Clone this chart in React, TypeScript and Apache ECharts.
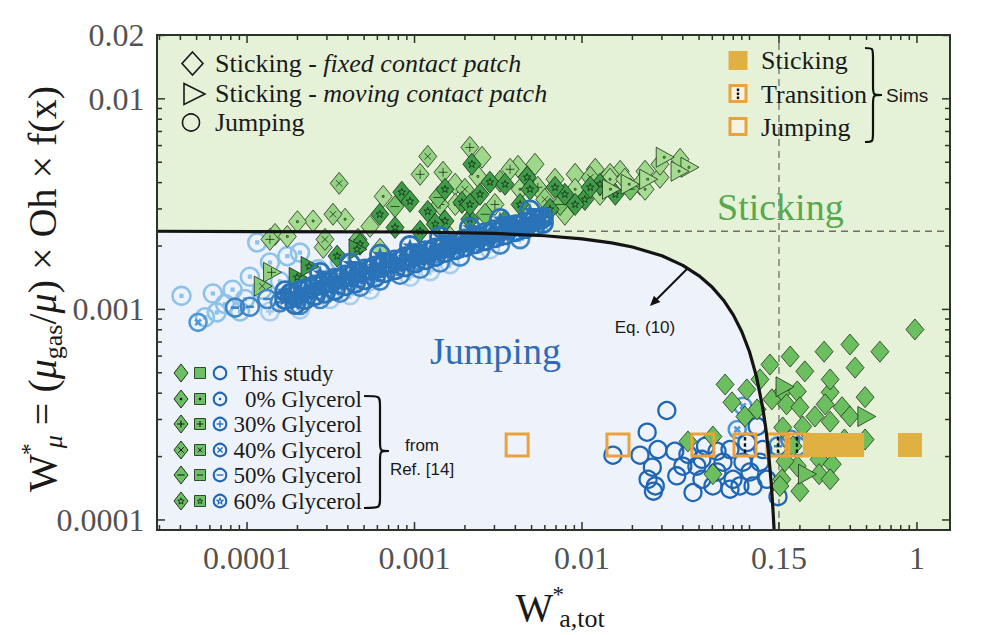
import React, { useEffect, useRef } from 'react';
import * as echarts from 'echarts';

const SERIF = '"Liberation Serif", "Times New Roman", serif';
const SANS = '"Liberation Sans", Arial, sans-serif';

// ---------- axes ----------
const X_MIN = 2.9e-5;
const X_MAX = 1.575;
const Y_MIN = 8.96e-5;
const Y_MAX = 0.0201;

const X_TICK_VALUES = [1e-4, 1e-3, 1e-2, 0.15, 1];
const X_TICK_LABELS = ['0.0001', '0.001', '0.01', '0.15', '1'];
const Y_TICK_VALUES = [1e-4, 1e-3, 1e-2, 0.02];
const Y_TICK_LABELS = ['0.0001', '0.001', '0.01', '0.02'];
const X_MINOR_TICKS = [3e-5, 4e-5, 5e-5, 6e-5, 7e-5, 8e-5, 9e-5, 2e-4, 3e-4, 4e-4, 5e-4, 6e-4, 7e-4, 8e-4, 9e-4,
  2e-3, 3e-3, 4e-3, 5e-3, 6e-3, 7e-3, 8e-3, 9e-3, 0.02, 0.03, 0.04, 0.05, 0.06, 0.07, 0.08, 0.09, 0.1,
  0.2, 0.3, 0.4, 0.5, 0.6, 0.7, 0.8, 0.9];
const Y_MINOR_TICKS = [2e-4, 3e-4, 4e-4, 5e-4, 6e-4, 7e-4, 8e-4, 9e-4, 2e-3, 3e-3, 4e-3, 5e-3, 6e-3, 7e-3, 8e-3, 9e-3];

// ---------- regime boundary, Eq. (10) ----------
const STICK_LEVEL = 0.00235;
const CRIT_WA = 0.15;
const CURVE_X = [2.9e-5, 0.001, 0.003, 0.006, 0.01, 0.015, 0.02, 0.03, 0.04, 0.05, 0.06, 0.07, 0.08, 0.09, 0.1, 0.11, 0.12, 0.125, 0.13, 0.135, 0.138, 0.1403];
const CURVE_Y = [0.00235, 0.002331, 0.002294, 0.002238, 0.002163, 0.002071, 0.001979, 0.001798, 0.001619, 0.001444, 0.001273, 0.001106, 0.000942, 0.000783, 0.000629, 0.000481, 0.000341, 0.000274, 0.000209, 0.000148, 0.000113, 0.0000896];

// ---------- Ref. [14] sticking, fixed contact patch (diamonds) ----------
const STICK_PLAIN_UP = [[1.47e-4, 2.27e-3], [2.85e-4, 1.97e-3], [5.42e-4, 2.48e-3], [1.75e-3, 3.93e-3], [2.53e-3, 5.28e-3], [4.15e-3, 4.78e-3], [6.22e-4, 1.93e-3], [5.24e-3, 4.89e-3], [6.9e-3, 4.15e-3], [9.1e-3, 4.38e-3], [0.012, 4.63e-3], [0.0169, 4.53e-3], [0.0238, 4.53e-3], [0.0292, 4.24e-3], [1.63e-3, 2.2e-3], [5.61e-3, 2.68e-3], [7.9e-3, 2.83e-3], [0.0147, 4.38e-3], [0.0222, 3.93e-3], [0.0292, 4.89e-3], [0.0385, 5.16e-3]];
const STICK_DOT = [[6.5e-4, 3.44e-3], [3.85e-4, 2.68e-3], [2.48e-4, 2.63e-3], [2.0e-4, 2.61e-3], [1.74e-4, 2.22e-3], [2.39e-3, 4.28e-3], [9.1e-3, 3.72e-3], [0.0147, 4.15e-3], [4.27e-3, 3.72e-3], [1.75e-3, 3.15e-3], [0.0128, 3.52e-3], [0.018, 4.15e-3], [0.0238, 3.72e-3]];
const STICK_PLUS = [[1.08e-3, 4.38e-3], [1.48e-3, 4.48e-3], [2.14e-3, 5.88e-3], [3.72e-3, 4.63e-3], [1.42e-3, 3.15e-3], [3.02e-3, 3.15e-3], [5.45e-3, 3.8e-3], [1.37e-4, 2.15e-3]];
const STICK_X = [[3.55e-4, 3.97e-3], [3.26e-4, 2.83e-3], [2.92e-4, 2.15e-3], [1.2e-3, 5.33e-3], [2.0e-3, 3.72e-3], [6.0e-3, 3.33e-3], [0.0112, 4.24e-3]];
const STICK_MINUS = [[7.65e-4, 3.08e-3], [1.38e-3, 3.4e-3], [2.64e-3, 2.83e-3], [3.24e-3, 4.06e-3], [7.4e-3, 3.15e-3], [0.0194, 3.72e-3], [4.6e-4, 2.15e-3]];
const STICK_STAR = [[2.2e-3, 4.89e-3], [4.7e-3, 4.24e-3], [8.4e-4, 3.6e-3], [9.4e-4, 3.26e-3], [1.2e-3, 2.92e-3], [1.92e-3, 3.22e-3], [2.82e-3, 4.02e-3], [1.52e-3, 2.63e-3], [2.14e-3, 2.68e-3], [3.47e-3, 2.63e-3], [4.27e-3, 3.15e-3], [6.44e-3, 2.99e-3], [7.9e-3, 3.52e-3], [0.0104, 3.33e-3], [0.0128, 3.93e-3], [0.0158, 3.52e-3], [6.2e-4, 2.83e-3], [7.65e-4, 2.45e-3], [1.08e-3, 2.35e-3], [3.45e-4, 1.79e-3], [4.73e-4, 2.04e-3], [1.52e-3, 3.72e-3], [2.46e-3, 3.52e-3], [3.47e-3, 3.93e-3], [4.89e-3, 3.72e-3], [6.9e-3, 3.8e-3], [9.1e-3, 3.15e-3], [0.0112, 3.8e-3], [2.14e-3, 3.15e-3], [1.33e-3, 2.54e-3]];

// ---------- Ref. [14] sticking, moving contact patch (triangles) ----------
const MOVE_PLUS = [[1.42e-4, 1.5e-3]];
const MOVE_X = [[1.25e-4, 1.29e-3]];
const MOVE_STAR = [[2.02e-4, 1.42e-3], [4.6e-4, 1.93e-3], [2.38e-4, 1.6e-3]];
const MOVE_DOT = [[0.0314, 5.28e-3], [0.0441, 4.73e-3], [0.025, 4.15e-3], [0.0194, 3.93e-3], [0.015, 3.72e-3], [0.0385, 4.53e-3]];

// ---------- This study, sticking ----------
const STICK_STUDY = [[0.0715, 4.4e-4], [0.0965, 4.17e-4], [0.0786, 3.62e-4], [0.0939, 3.1e-4], [0.111, 3.35e-4], [0.136, 3.74e-4], [0.158, 4.08e-4], [0.193, 4.08e-4], [0.303, 4.04e-4], [0.1665, 3.54e-4], [0.2, 3.43e-4], [0.246, 3.1e-4], [0.283, 3.54e-4], [0.357, 3.43e-4], [0.49, 3.83e-4], [0.398, 3.1e-4], [0.303, 2.93e-4], [0.158, 2.75e-4], [0.208, 2.78e-4], [0.0429, 2.36e-4], [0.0605, 2.49e-4], [0.182, 2.24e-4], [0.2605, 1.94e-4], [0.312, 1.84e-4], [0.2605, 1.65e-4], [0.303, 1.56e-4], [0.193, 1.8e-4], [0.156, 1.56e-4], [0.2, 1.37e-4], [0.152, 1.45e-4], [0.0605, 1.65e-4], [0.303, 4.65e-4], [0.972, 8.03e-4], [0.601, 6.3e-4], [0.398, 6.81e-4], [0.279, 6.3e-4], [0.175, 5.97e-4], [0.1325, 5.47e-4], [0.214, 5.08e-4], [0.427, 5.29e-4], [0.1155, 4.65e-4], [0.49, 2.41e-4], [0.369, 2.41e-4], [0.163, 1.9e-4]];
const MOVE_STUDY = [[0.502, 3.1e-4], [0.222, 1.65e-4], [0.163, 4.29e-4]];

// ---------- This study, jumping ----------
const JUMP_STUDY = [[0.0321, 3.31e-4], [0.0245, 2.61e-4], [0.0153, 2.03e-4], [0.0222, 2.03e-4], [0.0284, 2.16e-4], [0.0263, 1.78e-4], [0.0248, 1.56e-4], [0.0274, 1.45e-4], [0.0267, 1.37e-4], [0.0368, 1.62e-4], [0.0358, 2.12e-4], [0.0429, 2.05e-4], [0.0485, 1.8e-4], [0.0546, 2.24e-4], [0.046, 1.35e-4], [0.0605, 1.45e-4], [0.052, 1.56e-4], [0.0695, 1.88e-4], [0.0765, 2.16e-4], [0.0798, 1.56e-4], [0.0877, 1.45e-4], [0.1007, 1.69e-4], [0.105, 1.45e-4], [0.0914, 1.88e-4], [0.0965, 2.33e-4], [0.12, 2.16e-4], [0.1155, 1.88e-4], [0.148, 1.29e-4], [0.064, 2.12e-4], [0.052, 1.94e-4], [0.04, 1.8e-4], [0.064, 1.69e-4], [0.0765, 1.4e-4], [0.127, 1.56e-4], [0.111, 2.78e-4]];

// ---------- Ref. [14] jumping (circles) ----------
const JUMP_DOT = [[1.15e-4, 2.08e-3], [4.06e-5, 1.16e-3], [6.25e-5, 1.19e-3], [8.2e-5, 1.24e-3], [1.04e-4, 1.43e-3], [1.37e-4, 1.67e-3], [1.74e-4, 1.79e-3], [2.07e-4, 1.86e-3], [6.6e-5, 9.68e-4], [7.39e-5, 1.06e-3], [9.73e-5, 1.12e-3], [1.23e-4, 1.24e-3], [1.57e-4, 1.36e-3], [2.66e-4, 1.55e-3], [3.59e-4, 1.69e-3], [5.61e-5, 9.17e-4], [9.08e-5, 9.78e-4]];
const JUMP_PLUS = [[2.07e-4, 1.0e-3], [3.13e-4, 1.12e-3], [5.42e-4, 1.24e-3], [9.4e-4, 1.43e-3], [1.63e-3, 1.64e-3], [2.82e-3, 1.93e-3], [4.27e-3, 2.15e-3], [1.37e-4, 9.78e-4], [4.12e-4, 1.17e-3], [1.24e-3, 1.52e-3]];
const JUMP_X = [[5.1e-5, 8.68e-4], [0.0914, 3.47e-4], [0.0845, 2.69e-4]];
const JUMP_MINUS = [[1.04e-4, 1.03e-3], [8.48e-5, 1.02e-3], [1.32e-4, 1.12e-3], [1.86e-4, 1.2e-3], [1.57e-4, 1.08e-3], [0.148, 2.24e-4], [0.193, 2.24e-4], [0.175, 2.41e-4],
  [2.07e-4, 1.05e-3], [2.73e-4, 1.12e-3], [3.59e-4, 1.2e-3], [4.73e-4, 1.28e-3], [6.22e-4, 1.37e-3], [8.19e-4, 1.46e-3], [1.08e-3, 1.56e-3], [1.42e-3, 1.67e-3], [1.87e-3, 1.78e-3], [2.46e-3, 1.91e-3], [3.24e-3, 2.03e-3], [4.27e-3, 2.16e-3]];
const JUMP_STAR = [[1.69e-4, 1.12e-3], [1.69e-4, 1.22e-3], [1.94e-4, 1.17e-3], [1.94e-4, 1.06e-3], [2.22e-4, 1.24e-3], [2.22e-4, 1.12e-3], [2.55e-4, 1.3e-3], [2.55e-4, 1.17e-3], [2.92e-4, 1.34e-3], [2.92e-4, 1.2e-3], [3.35e-4, 1.4e-3], [3.35e-4, 1.24e-3], [3.85e-4, 1.45e-3], [3.85e-4, 1.3e-3], [4.42e-4, 1.5e-3], [4.42e-4, 1.34e-3], [5.06e-4, 1.55e-3], [5.06e-4, 1.39e-3], [5.81e-4, 1.6e-3], [5.81e-4, 1.43e-3], [6.67e-4, 1.66e-3], [6.67e-4, 1.5e-3], [7.65e-4, 1.71e-3], [7.65e-4, 1.55e-3], [8.78e-4, 1.77e-3], [8.78e-4, 1.6e-3], [1.01e-3, 1.83e-3], [1.01e-3, 1.67e-3], [1.16e-3, 1.89e-3], [1.16e-3, 1.73e-3], [1.33e-3, 1.95e-3], [1.33e-3, 1.79e-3], [1.52e-3, 2.01e-3], [1.52e-3, 1.87e-3], [1.75e-3, 2.08e-3], [1.75e-3, 1.93e-3], [2.0e-3, 2.15e-3], [2.0e-3, 1.99e-3], [2.3e-3, 2.22e-3], [2.3e-3, 2.06e-3], [2.64e-3, 2.3e-3], [2.64e-3, 2.13e-3], [3.02e-3, 2.38e-3], [3.02e-3, 2.2e-3], [3.47e-3, 2.46e-3], [3.47e-3, 2.27e-3], [3.98e-3, 2.51e-3], [3.98e-3, 2.35e-3], [4.57e-3, 2.59e-3], [4.57e-3, 2.43e-3], [5.24e-3, 2.68e-3], [5.24e-3, 2.51e-3], [5.85e-3, 2.73e-3], [5.85e-3, 2.57e-3],
  [1.81e-4, 1.185e-3], [2.07e-4, 1.225e-3], [2.38e-4, 1.265e-3], [2.73e-4, 1.31e-3], [3.13e-4, 1.35e-3], [3.59e-4, 1.4e-3], [4.12e-4, 1.44e-3], [4.73e-4, 1.49e-3], [5.42e-4, 1.54e-3], [6.22e-4, 1.59e-3], [7.14e-4, 1.65e-3], [8.19e-4, 1.7e-3], [9.4e-4, 1.76e-3], [1.08e-3, 1.82e-3], [1.24e-3, 1.88e-3], [1.42e-3, 1.94e-3], [1.63e-3, 2.005e-3], [1.87e-3, 2.07e-3], [2.14e-3, 2.14e-3], [2.46e-3, 2.21e-3], [2.82e-3, 2.28e-3], [3.24e-3, 2.36e-3], [3.72e-3, 2.44e-3], [4.27e-3, 2.52e-3], [4.89e-3, 2.6e-3], [5.61e-3, 2.69e-3],
  [2.73e-4, 1.49e-3], [4.12e-4, 1.65e-3], [6.22e-4, 1.82e-3], [9.4e-4, 2.0e-3], [1.42e-3, 2.21e-3], [2.14e-3, 2.44e-3], [3.24e-3, 2.69e-3], [4.89e-3, 2.95e-3]];

// ---------- Simulations ----------
const SIM_LEVEL = 0.000227;
const SIM_JUMP_X = [0.0041, 0.0164, 0.0527];
const SIM_TRANS_X = [0.094, 0.148, 0.192];
const SIM_STICK_X = [0.246, 0.303, 0.41, 0.908];

// ---------- styles ----------
const GREEN_BG = '#e5f2d8';
const BLUE_BG = '#eef2fb';
const FRAME = '#2b3428';
const ORANGE = '#e9a23c';
const MUSTARD = '#e1b042';
const CLEAR = 'rgba(0,0,0,0)';

const DIAMOND = 'M0,-11 L9,0 L0,11 L-9,0 Z';
const TRI = 'M-8,-10 L10,0 L-8,10 Z';
const CIRC = 'M10,0 A10,10 0 1,1 -10,0 A10,10 0 1,1 10,0 Z';
const MARKS: Record<string, string> = {
  none: '',
  dot: ' M-0.9,-0.9 L0.9,-0.9 L0.9,0.9 L-0.9,0.9 Z',
  plus: ' M-4.5,0 L4.5,0 M0,-4.5 L0,4.5',
  x: ' M-3.3,-3.3 L3.3,3.3 M3.3,-3.3 L-3.3,3.3',
  minus: ' M-4.5,0 L4.5,0',
  star: ' M0,-4 L0.95,-1.3 L3.8,-1.25 L1.5,0.5 L2.35,3.25 L0,1.6 L-2.35,3.25 L-1.5,0.5 L-3.8,-1.25 L-0.95,-1.3 Z',
};
const sym = (shape: string, mark: string) => 'path://' + shape + MARKS[mark];

function scat(data: number[][], symbol: string, size: any, fill: string, stroke: string, bw: number): any {
  return {
    type: 'scatter', data, symbol, symbolSize: size, silent: true,
    emphasis: { disabled: true },
    itemStyle: { color: fill, borderColor: stroke, borderWidth: bw, opacity: 1 },
  };
}

function starPts(cx: number, cy: number, ro: number, ri: number) {
  const pts: number[][] = [];
  for (let k = 0; k < 10; k++) {
    const a = -Math.PI / 2 + (k * Math.PI) / 5;
    const r = k % 2 === 0 ? ro : ri;
    pts.push([cx + r * Math.cos(a), cy + r * Math.sin(a)]);
  }
  return pts;
}

function gl(x1: number, y1: number, x2: number, y2: number, stroke: string, lw: number): any {
  return { type: 'line', z: 60, silent: true, shape: { x1, y1, x2, y2 }, style: { stroke, lineWidth: lw } };
}

function markEls(kind: string, cx: number, cy: number, s: number, color: string, lw: number): any[] {
  if (kind === 'dot') return [{ type: 'circle', z: 61, silent: true, shape: { cx, cy, r: 1.3 }, style: { fill: color } }];
  if (kind === 'plus') return [gl(cx - s, cy, cx + s, cy, color, lw), gl(cx, cy - s, cx, cy + s, color, lw)];
  if (kind === 'x') {
    const d = s * 0.75;
    return [gl(cx - d, cy - d, cx + d, cy + d, color, lw), gl(cx + d, cy - d, cx - d, cy + d, color, lw)];
  }
  if (kind === 'minus') return [gl(cx - s, cy, cx + s, cy, color, lw)];
  if (kind === 'star') return [{ type: 'polygon', z: 61, silent: true, shape: { points: starPts(cx, cy + 0.3, s * 0.95, s * 0.4) }, style: { fill: 'none', stroke: color, lineWidth: lw * 0.8 } }];
  return [];
}

function brace(x0: number, xv: number, xt: number, top: number, bot: number, mid: number): any[] {
  const r = 10;
  const st = () => ({ stroke: '#111', lineWidth: 2.2, fill: 'none' });
  const bz = (x1: number, y1: number, c1x: number, c1y: number, c2x: number, c2y: number, x2: number, y2: number) => ({
    type: 'bezierCurve', z: 60, silent: true,
    shape: { x1, y1, cpx1: c1x, cpy1: c1y, cpx2: c2x, cpy2: c2y, x2, y2 }, style: st(),
  });
  return [
    bz(x0, top, xv, top, xv, top, xv, top + r),
    { type: 'line', z: 60, silent: true, shape: { x1: xv, y1: top + r, x2: xv, y2: mid - r }, style: st() },
    bz(xv, mid - r, xv, mid, xv, mid, xt, mid),
    bz(xt, mid, xv, mid, xv, mid, xv, mid + r),
    { type: 'line', z: 60, silent: true, shape: { x1: xv, y1: mid + r, x2: xv, y2: bot - r }, style: st() },
    bz(xv, bot - r, xv, bot, xv, bot, x0, bot),
  ];
}

function txt(x: number, y: number, text: string, size: number, o: any = {}): any {
  const align = o.align || 'left';
  return {
    type: 'text', x, y, z: 62, silent: true, rotation: o.rotation || 0,
    style: {
      text, fill: o.fill || '#1a1a1a', fontSize: size, fontFamily: o.family || SERIF,
      fontStyle: o.italic ? 'italic' : 'normal',
      align, textAlign: align, verticalAlign: 'middle', textVerticalAlign: 'middle',
      rich: o.rich,
    },
  };
}

function buildGraphics(): any[] {
  const g: any[] = [];
  g.push({ type: 'rect', z: 40, silent: true, shape: { x: 157, y: 35, width: 793, height: 495 }, style: { fill: 'none', stroke: FRAME, lineWidth: 2 } });

  // top-left legend
  const richTL = {
    r: { fontSize: 26, fontFamily: SERIF, fill: '#1a1a1a' },
    i: { fontSize: 26, fontFamily: SERIF, fontStyle: 'italic', fill: '#1a1a1a' },
  };
  g.push({ type: 'polygon', z: 60, silent: true, shape: { points: [[192.5, 52], [203, 63.5], [192.5, 75], [182, 63.5]] }, style: { fill: 'none', stroke: '#1a1a1a', lineWidth: 1.6 } });
  g.push({ type: 'polygon', z: 60, silent: true, shape: { points: [[184, 83.5], [205, 94], [184, 104.5]] }, style: { fill: 'none', stroke: '#1a1a1a', lineWidth: 1.6 } });
  g.push({ type: 'circle', z: 60, silent: true, shape: { cx: 191, cy: 122.5, r: 8.5 }, style: { fill: 'none', stroke: '#1a1a1a', lineWidth: 1.6 } });
  g.push(txt(215, 63, '{r|Sticking - }{i|fixed contact patch}', 26, { rich: richTL }));
  g.push(txt(215, 93, '{r|Sticking - }{i|moving contact patch}', 26, { rich: richTL }));
  g.push(txt(215, 122, 'Jumping', 26));

  // top-right legend (simulations)
  g.push({ type: 'rect', z: 60, silent: true, shape: { x: 728.5, y: 51, width: 19, height: 19 }, style: { fill: MUSTARD } });
  g.push({ type: 'rect', z: 60, silent: true, shape: { x: 730, y: 85.5, width: 16, height: 16 }, style: { fill: '#f5f3e3', stroke: ORANGE, lineWidth: 3 } });
  [88.5, 92.5, 96.5].forEach((yy) => g.push({ type: 'rect', z: 61, silent: true, shape: { x: 736.8, y: yy, width: 2.4, height: 2.6 }, style: { fill: '#111' } }));
  g.push({ type: 'rect', z: 60, silent: true, shape: { x: 730, y: 118.5, width: 16, height: 16 }, style: { fill: '#f5f3e3', stroke: ORANGE, lineWidth: 3 } });
  g.push(txt(761, 60, 'Sticking', 26));
  g.push(txt(761, 94, 'Transition', 26));
  g.push(txt(761, 127, 'Jumping', 26));
  g.push(...brace(865, 873, 882, 48, 142, 95));
  g.push(txt(886, 95, 'Sims', 19, { family: SANS }));

  // bottom-left legend
  const rows = [373, 399, 424, 450, 475, 501];
  const kinds = ['none', 'dot', 'plus', 'x', 'minus', 'star'];
  const labels = ['This study', '0% Glycerol', '30% Glycerol', '40% Glycerol', '50% Glycerol', '60% Glycerol'];
  rows.forEach((y, i) => {
    g.push({ type: 'polygon', z: 60, silent: true, shape: { points: [[181, y - 9], [188, y], [181, y + 9], [174, y]] }, style: { fill: '#6cc064', stroke: '#1f331c', lineWidth: 1 } });
    g.push({ type: 'rect', z: 60, silent: true, shape: { x: 194.5, y: y - 5.5, width: 11, height: 11 }, style: { fill: '#6fbf66', stroke: '#2a4a28', lineWidth: 1 } });
    g.push({ type: 'circle', z: 60, silent: true, shape: { cx: 220, cy: y, r: 6.3 }, style: { fill: 'none', stroke: '#1f66b5', lineWidth: 2 } });
    g.push(...markEls(kinds[i], 181, y, 3.6, '#111', 1));
    g.push(...markEls(kinds[i], 200, y, 3, '#111', 0.9));
    g.push(...markEls(kinds[i], 220, y, 3.4, '#1f66b5', 1.3));
    if (i === 0) g.push(txt(237, y, labels[i], 23));
    else g.push(txt(362, y, labels[i], 23, { align: 'right' }));
  });
  g.push(...brace(364, 380, 389, 396, 508, 451));
  g.push(txt(422, 445, 'from', 17, { family: SANS, align: 'center' }));
  g.push(txt(422, 469, 'Ref. [14]', 17, { family: SANS, align: 'center' }));

  // regime labels
  g.push(txt(717, 207, 'Sticking', 38, { fill: '#58a94d' }));
  g.push(txt(430, 351, 'Jumping', 38, { fill: '#2f6cb5' }));

  // Eq. (10) annotation
  g.push(gl(688, 268, 655, 301, '#111', 2));
  g.push({ type: 'polygon', z: 60, silent: true, shape: { points: [[650, 306], [660.3, 302.1], [653.9, 295.7]] }, style: { fill: '#111' } });
  g.push(txt(645, 327, 'Eq. (10)', 17, { family: SANS, align: 'center' }));

  // axis titles
  const richT = {
    n: { fontSize: 40, fontFamily: SERIF, lineHeight: 48, fill: '#1a1a1a' },
    i: { fontSize: 40, fontFamily: SERIF, fontStyle: 'italic', lineHeight: 48, fill: '#1a1a1a' },
    sup: { fontSize: 23, fontFamily: SERIF, lineHeight: 20, verticalAlign: 'top', width: 2, padding: [0, 0, 0, 4], fill: '#1a1a1a' },
    sub: { fontSize: 26, fontFamily: SERIF, lineHeight: 25, verticalAlign: 'bottom', fill: '#1a1a1a' },
    subi: { fontSize: 26, fontFamily: SERIF, fontStyle: 'italic', lineHeight: 25, verticalAlign: 'bottom', fill: '#1a1a1a' },
  };
  g.push(txt(560, 607, '{n|W}{sup|*}{sub|a,tot}', 40, { align: 'center', rich: richT }));
  g.push(txt(42, 289, '{n|W}{sup|*}{subi|μ}{n| = (}{i|μ}{sub|gas}{n|/}{i|μ}{n|) × Oh × f(x)}', 40, { align: 'center', rich: richT, rotation: Math.PI / 2 }));
  return g;
}

function tickSeries(axis: 'x' | 'y'): any {
  const majors = axis === 'x' ? X_TICK_VALUES : Y_TICK_VALUES;
  const minors = axis === 'x' ? X_MINOR_TICKS : Y_MINOR_TICKS;
  const data = [...majors.map((v) => [v, 1]), ...minors.map((v) => [v, 0])].map(([v, m]) =>
    axis === 'x' ? [v, Y_MIN, m] : [X_MIN, v, m]);
  return {
    type: 'custom', silent: true, clip: false, z: 30, data,
    encode: { x: 0, y: 1 },
    renderItem: (_p: any, api: any) => {
      const major = api.value(2);
      const len = major ? 8 : 5;
      const st = { stroke: FRAME, lineWidth: 1.5 };
      if (axis === 'x') {
        const v = api.value(0);
        const b = api.coord([v, Y_MIN]);
        const t = api.coord([v, Y_MAX]);
        return { type: 'group', children: [
          { type: 'line', shape: { x1: b[0], y1: b[1], x2: b[0], y2: b[1] - len }, style: st },
          { type: 'line', shape: { x1: t[0], y1: t[1], x2: t[0], y2: t[1] + len }, style: st },
        ] };
      }
      const v = api.value(1);
      const l = api.coord([X_MIN, v]);
      const r = api.coord([X_MAX, v]);
      return { type: 'group', children: [
        { type: 'line', shape: { x1: l[0], y1: l[1], x2: l[0] + len, y2: l[1] }, style: st },
        { type: 'line', shape: { x1: r[0], y1: r[1], x2: r[0] - len, y2: r[1] }, style: st },
      ] };
    },
  };
}

function labelSeries(axis: 'x' | 'y'): any {
  const vals = axis === 'x' ? X_TICK_VALUES : Y_TICK_VALUES;
  const labs = axis === 'x' ? X_TICK_LABELS : Y_TICK_LABELS;
  return {
    type: 'scatter', silent: true, clip: false, z: 30, symbolSize: 1,
    emphasis: { disabled: true },
    itemStyle: { color: CLEAR },
    data: vals.map((v) => (axis === 'x' ? [v, Y_MIN] : [X_MIN, v])),
    label: {
      show: true, position: axis === 'x' ? 'bottom' : 'left', distance: axis === 'x' ? 11 : 12,
      formatter: (p: any) => labs[p.dataIndex],
      fontFamily: SERIF, fontSize: 32, lineHeight: 32, color: '#222',
    },
  };
}

function dashed(data: number[][]): any {
  return {
    type: 'line', data, symbol: 'none', silent: true, z: 1,
    lineStyle: { color: '#6e6e6e', type: [7, 5], width: 1.3 },
  };
}

function buildOption(): any {
  const curve = CURVE_X.map((x, i) => [x, CURVE_Y[i]]);
  const sims = (xs: number[]) => xs.map((x) => [x, SIM_LEVEL]);
  const series: any[] = [
    {
      type: 'line', data: curve, symbol: 'none', silent: true, z: 1,
      lineStyle: { width: 0, opacity: 0 },
      areaStyle: { color: BLUE_BG, opacity: 1, origin: 'start' },
    },
    dashed([[X_MIN, STICK_LEVEL], [X_MAX, STICK_LEVEL]]),
    dashed([[CRIT_WA, Y_MIN], [CRIT_WA, Y_MAX]]),
    scat(JUMP_DOT, sym(CIRC, 'dot'), 18, CLEAR, '#8dc2ea', 2.6),
    scat(JUMP_PLUS, sym(CIRC, 'plus'), 18, CLEAR, '#a8cfef', 2.6),
    scat(JUMP_X, sym(CIRC, 'x'), 17, CLEAR, '#4f98d6', 2.6),
    scat(STICK_PLAIN_UP, sym(DIAMOND, 'none'), [18, 22], '#9fd88b', '#1f2f1c', 0.8),
    scat(STICK_DOT, sym(DIAMOND, 'dot'), [18, 22], '#a6dc92', '#1f2f1c', 0.8),
    scat(STICK_PLUS, sym(DIAMOND, 'plus'), [18, 22], '#9ad688', '#1f2f1c', 0.8),
    scat(STICK_X, sym(DIAMOND, 'x'), [18, 22], '#93d282', '#1f2f1c', 0.8),
    scat(STICK_MINUS, sym(DIAMOND, 'minus'), [18, 22], '#72c267', '#1f2f1c', 0.8),
    scat(STICK_STAR, sym(DIAMOND, 'star'), [18, 22], '#3f9d4a', '#1a2a18', 0.8),
    scat(MOVE_PLUS, sym(TRI, 'plus'), [18, 20], '#8fd17e', '#1f2f1c', 0.8),
    scat(MOVE_X, sym(TRI, 'x'), [18, 20], '#86cc77', '#1f2f1c', 0.8),
    scat(MOVE_STAR, sym(TRI, 'star'), [18, 20], '#3f9d4a', '#1a2a18', 0.8),
    scat(MOVE_DOT, sym(TRI, 'dot'), [18, 20], '#a6dc92', '#1f2f1c', 0.8),
    scat(JUMP_MINUS, sym(CIRC, 'minus'), 18, CLEAR, '#3f86c6', 2.6),
    scat(JUMP_STAR, sym(CIRC, 'star'), 19, CLEAR, '#2b73b8', 2.8),
    scat(JUMP_STUDY, 'circle', 17, CLEAR, '#1f66b5', 2.3),
    scat(STICK_STUDY, sym(DIAMOND, 'none'), [18, 21], '#6cbf5f', '#22341f', 0.8),
    scat(MOVE_STUDY, sym(TRI, 'none'), [18, 20], '#6cbf5f', '#22341f', 0.8),
    scat(sims(SIM_JUMP_X), 'rect', 22, CLEAR, ORANGE, 3),
    scat(sims(SIM_TRANS_X), 'rect', 22, CLEAR, ORANGE, 3),
    scat(sims(SIM_TRANS_X), 'path://M-1.2,-8 h2.4 v3.6 h-2.4 Z M-1.2,-1.8 h2.4 v3.6 h-2.4 Z M-1.2,4.4 h2.4 v3.6 h-2.4 Z', [2.4, 16], '#111', '#111', 0),
    scat(sims(SIM_STICK_X), 'rect', 24, MUSTARD, MUSTARD, 0),
    {
      type: 'line', data: curve, symbol: 'none', silent: true, z: 5,
      lineStyle: { color: '#141414', width: 3.2 },
    },
    tickSeries('x'),
    tickSeries('y'),
    labelSeries('x'),
    labelSeries('y'),
  ];
  const axisCommon = {
    type: 'log', logBase: 10,
    axisLine: { show: false }, axisTick: { show: false }, axisLabel: { show: false },
    splitLine: { show: false }, minorTick: { show: false }, minorSplitLine: { show: false },
  };
  return {
    animation: false,
    backgroundColor: '#ffffff',
    grid: { left: 157, top: 35, width: 793, height: 495, show: true, backgroundColor: GREEN_BG, borderWidth: 0 },
    xAxis: { ...axisCommon, min: X_MIN, max: X_MAX },
    yAxis: { ...axisCommon, min: Y_MIN, max: Y_MAX },
    series,
    graphic: { elements: buildGraphics() },
  };
}

export default function App() {
  const ref = useRef<HTMLDivElement>(null);
  useEffect(() => {
    if (!ref.current) return;
    const chart = echarts.init(ref.current, undefined, { renderer: 'svg' });
    chart.setOption(buildOption());
    return () => chart.dispose();
  }, []);
  return (
    <div
      ref={ref}
      style={{ position: 'fixed', left: 0, top: 0, width: 997, height: 635, background: '#fff' }}
    />
  );
}
